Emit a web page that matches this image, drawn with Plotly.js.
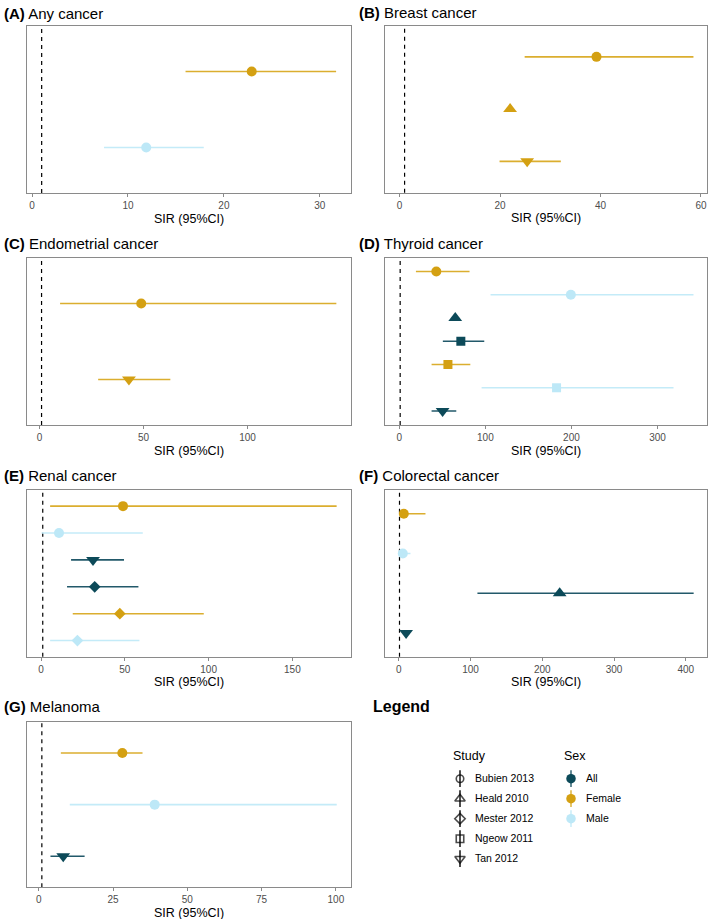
<!DOCTYPE html>
<html>
<head>
<meta charset="utf-8">
<script src="https://cdn.plot.ly/plotly-3.0.1.min.js"></script>
<style>html,body{margin:0;padding:0;background:#fff;}#chart{width:709px;height:919px;}</style>
</head>
<body>
<div id="chart"></div>
<script>
// ---------- data ----------
const studies = ["Bubien 2013", "Heald 2010", "Mester 2012", "Ngeow 2011", "Tan 2012"];
const sexes = ["All", "Female", "Male"];

const anyStudy = ["Bubien 2013", "Bubien 2013"];
const anySex = ["Female", "Male"];
const anySIR = [22.9, 11.9];
const anyLo = [16.0, 7.5];
const anyHi = [31.7, 17.9];
const anyTicks = [0, 10, 20, 30];

const breastStudy = ["Bubien 2013", "Heald 2010", "Tan 2012"];
const breastSex = ["Female", "Female", "Female"];
const breastSIR = [39.2, 22.0, 25.4];
const breastLo = [24.9, null, 19.9];
const breastHi = [58.5, null, 32.1];
const breastTicks = [0, 20, 40, 60];

const endoStudy = ["Bubien 2013", "Tan 2012"];
const endoSex = ["Female", "Female"];
const endoSIR = [48.9, 43.0];
const endoLo = [9.9, 28.2];
const endoHi = [142.7, 62.9];
const endoTicks = [0, 50, 100];

const thyStudy = ["Bubien 2013", "Bubien 2013", "Heald 2010", "Ngeow 2011", "Ngeow 2011", "Ngeow 2011", "Tan 2012"];
const thySex = ["Female", "Male", "All", "All", "Female", "Male", "All"];
const thySIR = [43.0, 199.3, 65.0, 71.5, 56.5, 182.7, 50.3];
const thyLo = [19.3, 106.0, null, 50.6, 37.5, 95.6, 37.5];
const thyHi = [81.6, 341.8, null, 98.7, 82.5, 318.6, 66.2];
const thyTicks = [0, 100, 200, 300];

const renStudy = ["Bubien 2013", "Bubien 2013", "Tan 2012", "Mester 2012", "Mester 2012", "Mester 2012"];
const renSex = ["Female", "Male", "All", "All", "Female", "Male"];
const renSIR = [48.9, 10.7, 31.0, 32.0, 47.0, 21.7];
const renLo = [5.4, 0.3, 17.9, 15.5, 18.9, 5.4];
const renHi = [176.4, 60.7, 49.5, 58.1, 97.1, 58.7];
const renTicks = [0, 50, 100, 150];

const colStudy = ["Bubien 2013", "Bubien 2013", "Heald 2010", "Tan 2012"];
const colSex = ["Female", "Male", "All", "All"];
const colSIR = [7.0, 5.6, 224.2, 10.2];
const colLo = [1.5, 1.5, 109.6, null];
const colHi = [37.2, 16.3, 410.9, null];
const colTicks = [0, 100, 200, 300, 400];

const melStudy = ["Bubien 2013", "Bubien 2013", "Tan 2012"];
const melSex = ["Female", "Male", "All"];
const melSIR = [28.1, 39.0, 8.2];
const melLo = [7.4, 10.4, 3.9];
const melHi = [34.9, 100.3, 15.4];
const melTicks = [0, 25, 50, 75, 100];

const referenceSIR = 1;

// ---------- styles ----------
const FONT = "Liberation Sans, Arial, Helvetica, sans-serif";
const studySymbols = ["circle", "triangle-up", "diamond", "square", "triangle-down"];
const studySizes = [10, 12, 9, 9, 12];
const studyKeySizes = [7.5, 9, 8, 7.5, 9];
const sexColors = ["#0C4A59", "#D4A012", "#BDE8F7"];
const sexLineColors = ["#22596A", "#DBAE2F", "#C4EBF8"];
const W = 709, H = 919;

const panels = [
  {letter: "A", title: "Any cancer", study: anyStudy, sex: anySex, sir: anySIR, lo: anyLo, hi: anyHi, ticks: anyTicks},
  {letter: "B", title: "Breast cancer", study: breastStudy, sex: breastSex, sir: breastSIR, lo: breastLo, hi: breastHi, ticks: breastTicks},
  {letter: "C", title: "Endometrial cancer", study: endoStudy, sex: endoSex, sir: endoSIR, lo: endoLo, hi: endoHi, ticks: endoTicks},
  {letter: "D", title: "Thyroid cancer", study: thyStudy, sex: thySex, sir: thySIR, lo: thyLo, hi: thyHi, ticks: thyTicks},
  {letter: "E", title: "Renal cancer", study: renStudy, sex: renSex, sir: renSIR, lo: renLo, hi: renHi, ticks: renTicks},
  {letter: "F", title: "Colorectal cancer", study: colStudy, sex: colSex, sir: colSIR, lo: colLo, hi: colHi, ticks: colTicks},
  {letter: "G", title: "Melanoma", study: melStudy, sex: melSex, sir: melSIR, lo: melLo, hi: melHi, ticks: melTicks}
];
// panel boxes in px: [left, right, top, bottom]
const boxes = [
  [27, 350.5, 26, 193],
  [384.5, 707, 25.5, 192.7],
  [27, 350.7, 258, 425],
  [384.5, 707, 257.5, 425],
  [27, 350.7, 490, 656.7],
  [384.5, 707, 490, 656.7],
  [27, 350.7, 722, 887.3]
];
const xRanges = [[-0.53, 33.2], [-3.0, 61.2], [-6.0, 149.6], [-17.2, 357.5], [-8.4, 184.8], [-19.9, 429.5], [-4.0, 105.0]];
const titleX = [2, 357, 2, 357, 2, 357, 2];
const titleY = [13, 12.5, 243.3, 243.3, 475, 475, 706.7];

const ciTraces = [];
const pointTraces = [];
const layout = {
  width: W, height: H,
  margin: {l: 0, r: 0, t: 0, b: 0},
  paper_bgcolor: "#ffffff", plot_bgcolor: "#ffffff",
  showlegend: false,
  font: {family: FONT, color: "#000000"},
  annotations: [], shapes: []
};

const BORDER = "#8a8a8a";

panels.forEach((p, i) => {
  const k = i + 1;
  const xa = k === 1 ? "x" : "x" + k;
  const ya = k === 1 ? "y" : "y" + k;
  const xl = k === 1 ? "xaxis" : "xaxis" + k;
  const yl = k === 1 ? "yaxis" : "yaxis" + k;
  const b = boxes[i];
  const rows = p.study.map((s, j) => s + " | " + p.sex[j]);

  sexes.forEach((sx, si) => {
    const idx = rows.map((r, j) => j).filter(j => p.sex[j] === sx);
    if (!idx.length) return;
    // confidence intervals (drawn first, beneath the points)
    ciTraces.push({
      type: "scatter", mode: "markers", xaxis: xa, yaxis: ya,
      x: idx.map(j => p.sir[j]),
      y: idx.map(j => rows[j]),
      error_x: {
        type: "data", symmetric: false,
        array: idx.map(j => p.hi[j] == null ? 0 : p.hi[j] - p.sir[j]),
        arrayminus: idx.map(j => p.lo[j] == null ? 0 : p.sir[j] - p.lo[j]),
        width: 0, thickness: 1.6, color: sexLineColors[si]
      },
      marker: {size: 1, opacity: 0, color: sexColors[si]},
      cliponaxis: false, hoverinfo: "skip"
    });
    pointTraces.push({
      type: "scatter", mode: "markers", xaxis: xa, yaxis: ya,
      x: idx.map(j => p.sir[j]),
      y: idx.map(j => rows[j]),
      marker: {
        symbol: idx.map(j => studySymbols[studies.indexOf(p.study[j])]),
        size: idx.map(j => studySizes[studies.indexOf(p.study[j])]),
        color: sexColors[si], opacity: 1, line: {width: 0}
      },
      cliponaxis: false, hoverinfo: "x+y"
    });
  });

  layout[xl] = {
    domain: [b[0] / W, b[1] / W], anchor: ya, range: xRanges[i],
    tickmode: "array", tickvals: p.ticks, ticktext: p.ticks.map(String),
    ticks: "outside", ticklen: 3, tickwidth: 1, tickcolor: BORDER,
    showline: true, mirror: true, linecolor: BORDER, linewidth: 1,
    showgrid: false, zeroline: false,
    tickfont: {size: 10, color: "#4d4d4d", family: FONT}, fixedrange: true
  };
  layout[yl] = {
    domain: [1 - b[3] / H, 1 - b[2] / H], anchor: xa,
    type: "category", categoryorder: "array", categoryarray: rows,
    range: [rows.length - 0.4, -0.6],
    showticklabels: false, ticks: "",
    showline: true, mirror: true, linecolor: BORDER, linewidth: 1,
    showgrid: false, zeroline: false, fixedrange: true
  };
  layout.shapes.push({
    type: "line", xref: xa, yref: ya + " domain",
    x0: referenceSIR, x1: referenceSIR, y0: 0, y1: 1,
    line: {color: "#000000", width: 1.2, dash: "4px,4px"}, layer: "below"
  });
  layout.annotations.push({
    xref: "paper", yref: "paper", x: titleX[i] / W, y: 1 - titleY[i] / H,
    xanchor: "left", yanchor: "middle", showarrow: false,
    text: "<b>(" + p.letter + ")</b> " + p.title,
    font: {size: 15, color: "#000000", family: FONT}
  });
  layout.annotations.push({
    xref: "paper", yref: "paper", x: ((b[0] + b[1]) / 2) / W, y: 1 - (b[3] + 25.5) / H,
    xanchor: "center", yanchor: "middle", showarrow: false,
    text: "SIR (95%CI)", font: {size: 12.5, color: "#000000", family: FONT}
  });
});

// ---------- legend block ----------
const legendTraces = [];
// Study key: vertical line + open symbol
legendTraces.push({
  type: "scatter", mode: "markers", xaxis: "x8", yaxis: "y8",
  x: studies.map(() => "Study"), y: studies,
  marker: {symbol: "line-ns-open", size: 12, color: "#000000", line: {width: 1.4, color: "#000000"}},
  cliponaxis: false, hoverinfo: "skip"
});
legendTraces.push({
  type: "scatter", mode: "markers", xaxis: "x8", yaxis: "y8",
  x: studies.map(() => "Study"), y: studies,
  marker: {symbol: studySymbols.map(s => s + "-open"), size: studyKeySizes, color: "#000000", line: {width: 1.6, color: "#000000"}},
  cliponaxis: false, hoverinfo: "y"
});
// Sex key: vertical line + filled circle
legendTraces.push({
  type: "scatter", mode: "markers", xaxis: "x9", yaxis: "y9",
  x: sexes.map(() => "Sex"), y: sexes,
  marker: {symbol: "line-ns-open", size: 12, color: sexLineColors, line: {width: 1.4, color: sexLineColors}},
  cliponaxis: false, hoverinfo: "skip"
});
legendTraces.push({
  type: "scatter", mode: "markers", xaxis: "x9", yaxis: "y9",
  x: sexes.map(() => "Sex"), y: sexes,
  marker: {symbol: "circle", size: 9.5, color: sexColors, line: {width: 0}},
  cliponaxis: false, hoverinfo: "y"
});

const legAxisCommon = {showgrid: false, zeroline: false, showline: false, ticks: "", fixedrange: true};
layout.xaxis8 = Object.assign({}, legAxisCommon, {domain: [446 / W, 474 / W], anchor: "y8", type: "category", range: [-0.5, 0.5], showticklabels: false});
layout.yaxis8 = Object.assign({}, legAxisCommon, {domain: [1 - 868.7 / H, 1 - 768.7 / H], anchor: "x8", side: "right", type: "category", categoryorder: "array", categoryarray: studies, range: [studies.length - 0.5, -0.5], showticklabels: true, tickfont: {size: 10.5, color: "#000000", family: FONT}});
layout.xaxis9 = Object.assign({}, legAxisCommon, {domain: [557 / W, 585 / W], anchor: "y9", type: "category", range: [-0.5, 0.5], showticklabels: false});
layout.yaxis9 = Object.assign({}, legAxisCommon, {domain: [1 - 828.7 / H, 1 - 768.7 / H], anchor: "x9", side: "right", type: "category", categoryorder: "array", categoryarray: sexes, range: [sexes.length - 0.5, -0.5], showticklabels: true, tickfont: {size: 10.5, color: "#000000", family: FONT}});

layout.annotations.push({
  xref: "paper", yref: "paper", x: 370.5 / W, y: 1 - 706.7 / H, xanchor: "left", yanchor: "middle",
  showarrow: false, text: "<b>Legend</b>", font: {size: 16, color: "#000000", family: FONT}
});
layout.annotations.push({
  xref: "paper", yref: "paper", x: 450.5 / W, y: 1 - 756 / H, xanchor: "left", yanchor: "middle",
  showarrow: false, text: "Study", font: {size: 12.5, color: "#000000", family: FONT}
});
layout.annotations.push({
  xref: "paper", yref: "paper", x: 561.5 / W, y: 1 - 756 / H, xanchor: "left", yanchor: "middle",
  showarrow: false, text: "Sex", font: {size: 12.5, color: "#000000", family: FONT}
});

Plotly.newPlot("chart", ciTraces.concat(pointTraces, legendTraces), layout, {displayModeBar: false, staticPlot: true});
</script>
</body>
</html>
